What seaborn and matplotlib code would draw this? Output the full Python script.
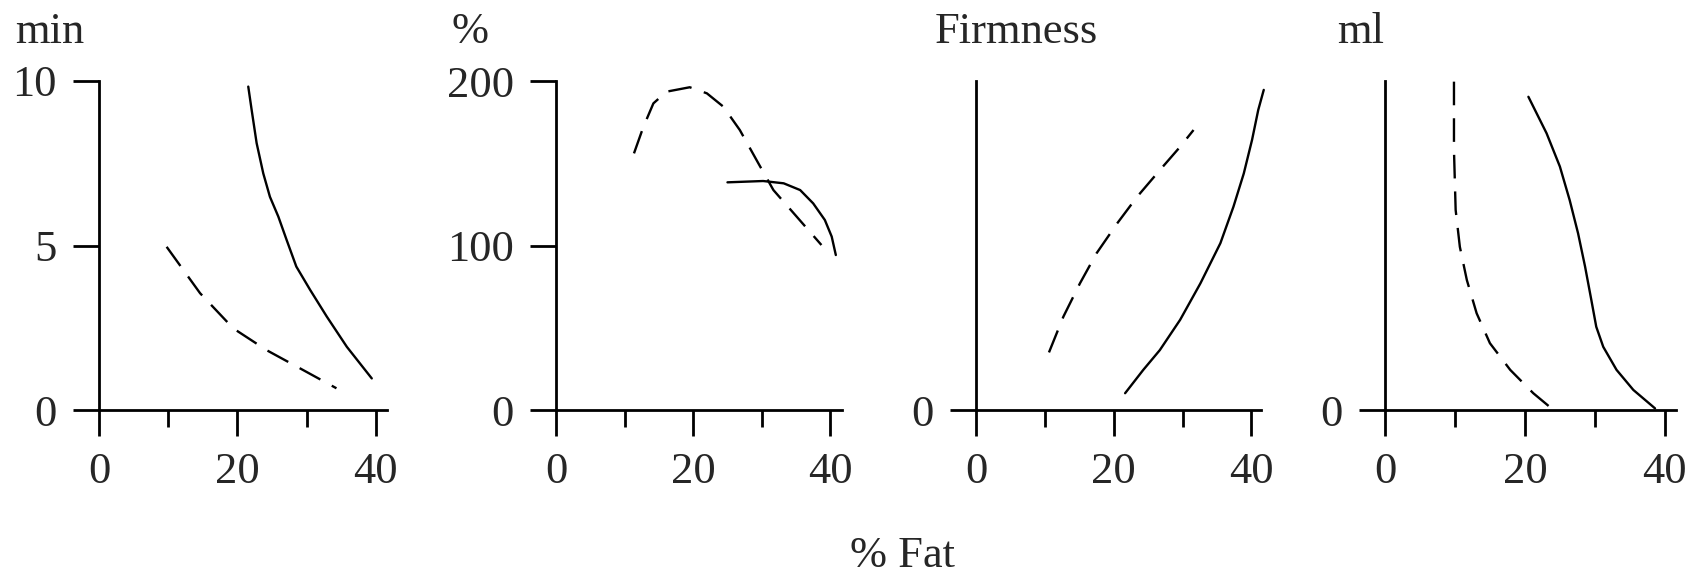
# imports
import numpy as np
import pandas as pd
import matplotlib
matplotlib.use('Agg')
import matplotlib.pyplot as plt
import seaborn as sns

# panel units and tick labels
units = ['min', '%', 'Firmness', 'ml']
y_ticks = [[0, 5, 10], [0, 100, 200], [0], [0]]
y_limits = [10, 200, 10, 10]
x_limits = [41.6, 41.7, 41.4, 41.6]
x_ticks = [0, 20, 40]
x_minor = [10, 30]
x_label = '% Fat'

# panel 1 (min)
p1_solid_x = [21.56, 22.05, 22.77, 23.73, 24.69, 25.9, 27.1, 28.5, 30.5, 32.9, 35.8, 39.4]
p1_solid_y = [9.83, 9.12, 8.11, 7.19, 6.48, 5.88, 5.17, 4.36, 3.65, 2.84, 1.92, 0.96]
p1_dash_x = [9.77, 14.6, 19.4, 24.2, 29.0, 34.3]
p1_dash_y = [4.96, 3.55, 2.48, 1.82, 1.27, 0.66]

# panel 2 (%)
p2_solid_x = [25.0, 30.2, 33.2, 35.6, 37.5, 39.2, 40.2, 40.8]
p2_solid_y = [138.4, 139.2, 137.8, 133.7, 125.6, 115.5, 105.4, 94.2]
p2_dash_x = [11.37, 12.73, 14.2, 16.1, 19.5, 22.0, 24.4, 26.8, 29.5, 31.7, 35.1, 38.7]
p2_dash_y = [156, 172, 186.4, 193.5, 196.2, 192.5, 184.4, 170.2, 150, 133.7, 117.5, 100.3]

# panel 3 (firmness)
p3_solid_x = [21.66, 24.3, 26.7, 29.65, 32.6, 35.5, 37.4, 38.9, 40.1, 41.0, 41.8]
p3_solid_y = [0.51, 1.22, 1.82, 2.74, 3.85, 5.07, 6.18, 7.19, 8.21, 9.12, 9.73]
p3_dash_x = [10.6, 12.7, 15.1, 17.5, 20.5, 23.4, 26.7, 29.65, 31.6]
p3_dash_y = [1.75, 2.84, 3.85, 4.76, 5.67, 6.48, 7.29, 8.0, 8.51]

# panel 4 (ml)
p4_solid_x = [20.5, 23.1, 25.0, 26.4, 27.6, 28.6, 29.5, 30.2, 31.2, 33.1, 35.5, 38.6]
p4_solid_y = [9.52, 8.41, 7.40, 6.38, 5.37, 4.36, 3.34, 2.53, 1.92, 1.22, 0.61, 0.05]
p4_dash_x = [9.86, 9.86, 10.1, 10.7, 11.7, 13.1, 15.0, 17.9, 21.2, 23.8]
p4_dash_y = [9.98, 7.9, 6.08, 4.96, 3.95, 2.94, 2.03, 1.22, 0.51, 0.05]

solids = [(p1_solid_x, p1_solid_y), (p2_solid_x, p2_solid_y),
          (p3_solid_x, p3_solid_y), (p4_solid_x, p4_solid_y)]
dashes = [(p1_dash_x, p1_dash_y), (p2_dash_x, p2_dash_y),
          (p3_dash_x, p3_dash_y), (p4_dash_x, p4_dash_y)]

# style
sns.set_style('ticks')
plt.rcParams['font.family'] = ['Liberation Serif', 'DejaVu Serif']
plt.rcParams['font.size'] = 32

fig = plt.figure(figsize=(17.05, 5.74), dpi=100)

W, H = 1705.0, 574.0
lefts = [99, 556, 976, 1385]
rights = [387, 842, 1261, 1676]
top_px, bottom_px = 81, 410
text_left = [15, 452, 935, 1337]

for i in range(4):
    ax = fig.add_axes([lefts[i] / W, (H - bottom_px) / H,
                       (rights[i] - lefts[i]) / W, (bottom_px - top_px) / H])
    sx, sy = solids[i]
    dx, dy = dashes[i]
    sns.lineplot(x=sx, y=sy, ax=ax, color='black', lw=1.7, sort=False,
                 estimator=None, clip_on=False)
    sns.lineplot(x=dx, y=dy, ax=ax, color='black', lw=1.7, sort=False,
                 estimator=None, clip_on=False)
    ax.lines[-1].set_linestyle((0, (10, 5.5)))

    ax.set_xlim(0, x_limits[i])
    ax.set_ylim(0, y_limits[i])
    ax.set_xticks(x_ticks)
    ax.set_xticks(x_minor, minor=True)
    ax.set_yticks(y_ticks[i])
    ax.set_xticklabels([str(t) for t in x_ticks])
    ax.set_yticklabels([str(t) for t in y_ticks[i]])

    for s in ['top', 'right']:
        ax.spines[s].set_visible(False)
    for s in ['left', 'bottom']:
        ax.spines[s].set_linewidth(2.0)
        ax.spines[s].set_color('black')

    ax.tick_params(axis='both', which='major', direction='out', length=18.5,
                   width=2.0, color='black', pad=12, labelsize=32)
    ax.tick_params(axis='x', which='minor', direction='out', length=12.5,
                   width=2.0, color='black')
    ax.set_facecolor('none')

    fig.text(text_left[i] / W, (H - 43) / H, units[i], fontsize=32,
             ha='left', va='baseline')

fig.text(902 / W, (H - 567) / H, x_label, fontsize=32, ha='center', va='baseline')

fig.savefig('out.png', dpi=100, facecolor='white')
